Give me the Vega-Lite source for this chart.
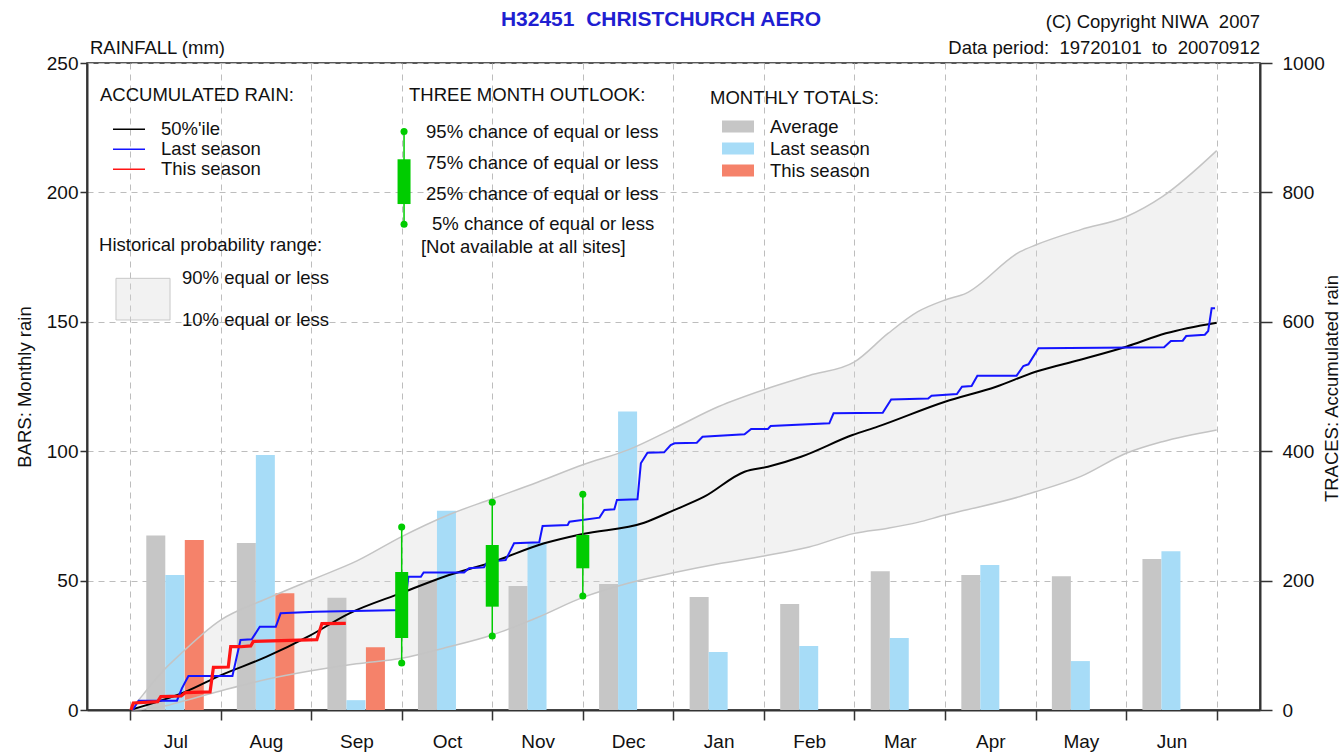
{
  "$schema": "https://vega.github.io/schema/vega-lite/v6.json",
  "width": 1173,
  "height": 647,
  "autosize": {"type": "none"},
  "padding": {"left": 87, "top": 63, "right": 84, "bottom": 42},
  "background": "white",
  "datasets": {
    "bars": [
      {"month": "Jul", "t": 0, "series": "Average", "mm": 67.4},
      {"month": "Jul", "t": 0, "series": "Last season", "mm": 52.2},
      {"month": "Jul", "t": 0, "series": "This season", "mm": 65.7},
      {"month": "Aug", "t": 1, "series": "Average", "mm": 64.5},
      {"month": "Aug", "t": 1, "series": "Last season", "mm": 98.5},
      {"month": "Aug", "t": 1, "series": "This season", "mm": 45.1},
      {"month": "Sep", "t": 2, "series": "Average", "mm": 43.4},
      {"month": "Sep", "t": 2, "series": "Last season", "mm": 3.8},
      {"month": "Sep", "t": 2, "series": "This season", "mm": 24.2},
      {"month": "Oct", "t": 3, "series": "Average", "mm": 50.2},
      {"month": "Oct", "t": 3, "series": "Last season", "mm": 77.0},
      {"month": "Nov", "t": 4, "series": "Average", "mm": 47.9},
      {"month": "Nov", "t": 4, "series": "Last season", "mm": 64.8},
      {"month": "Dec", "t": 5, "series": "Average", "mm": 48.7},
      {"month": "Dec", "t": 5, "series": "Last season", "mm": 115.3},
      {"month": "Jan", "t": 6, "series": "Average", "mm": 43.7},
      {"month": "Jan", "t": 6, "series": "Last season", "mm": 22.4},
      {"month": "Feb", "t": 7, "series": "Average", "mm": 41.0},
      {"month": "Feb", "t": 7, "series": "Last season", "mm": 24.7},
      {"month": "Mar", "t": 8, "series": "Average", "mm": 53.6},
      {"month": "Mar", "t": 8, "series": "Last season", "mm": 27.8},
      {"month": "Apr", "t": 9, "series": "Average", "mm": 52.2},
      {"month": "Apr", "t": 9, "series": "Last season", "mm": 56.0},
      {"month": "May", "t": 10, "series": "Average", "mm": 51.7},
      {"month": "May", "t": 10, "series": "Last season", "mm": 18.9},
      {"month": "Jun", "t": 11, "series": "Average", "mm": 58.3},
      {"month": "Jun", "t": 11, "series": "Last season", "mm": 61.3}
    ],
    "traces": [
      {"series": "50%'ile", "t": -0.5, "acc": 0},
      {"series": "50%'ile", "t": 0.109, "acc": 28},
      {"series": "50%'ile", "t": 0.507, "acc": 54},
      {"series": "50%'ile", "t": 1.003, "acc": 82},
      {"series": "50%'ile", "t": 1.486, "acc": 115},
      {"series": "50%'ile", "t": 1.917, "acc": 149},
      {"series": "50%'ile", "t": 2.5, "acc": 181},
      {"series": "50%'ile", "t": 2.969, "acc": 206},
      {"series": "50%'ile", "t": 3.508, "acc": 229},
      {"series": "50%'ile", "t": 4.074, "acc": 257.6},
      {"series": "50%'ile", "t": 4.497, "acc": 272},
      {"series": "50%'ile", "t": 5.178, "acc": 289.5},
      {"series": "50%'ile", "t": 5.508, "acc": 309},
      {"series": "50%'ile", "t": 5.841, "acc": 329.7},
      {"series": "50%'ile", "t": 6.286, "acc": 368.3},
      {"series": "50%'ile", "t": 6.544, "acc": 376},
      {"series": "50%'ile", "t": 6.91, "acc": 391.5},
      {"series": "50%'ile", "t": 7.478, "acc": 425},
      {"series": "50%'ile", "t": 7.756, "acc": 438},
      {"series": "50%'ile", "t": 8.5, "acc": 476.5},
      {"series": "50%'ile", "t": 9.064, "acc": 499.7},
      {"series": "50%'ile", "t": 9.5, "acc": 522.9},
      {"series": "50%'ile", "t": 9.984, "acc": 541},
      {"series": "50%'ile", "t": 10.5, "acc": 561.5},
      {"series": "50%'ile", "t": 10.938, "acc": 582.2},
      {"series": "50%'ile", "t": 11.5, "acc": 598.6},
      {"series": "Last season", "t": -0.471, "acc": 0},
      {"series": "Last season", "t": -0.405, "acc": 14.4},
      {"series": "Last season", "t": 0.018, "acc": 14.4},
      {"series": "Last season", "t": 0.073, "acc": 33.5},
      {"series": "Last season", "t": 0.145, "acc": 52.5},
      {"series": "Last season", "t": 0.631, "acc": 52.5},
      {"series": "Last season", "t": 0.72, "acc": 108.2},
      {"series": "Last season", "t": 0.844, "acc": 109.2},
      {"series": "Last season", "t": 0.933, "acc": 128.8},
      {"series": "Last season", "t": 1.11, "acc": 128.8},
      {"series": "Last season", "t": 1.163, "acc": 149.4},
      {"series": "Last season", "t": 1.545, "acc": 152},
      {"series": "Last season", "t": 2.53, "acc": 154.6},
      {"series": "Last season", "t": 2.574, "acc": 206},
      {"series": "Last season", "t": 2.712, "acc": 206},
      {"series": "Last season", "t": 2.742, "acc": 212.7},
      {"series": "Last season", "t": 3.189, "acc": 212.7},
      {"series": "Last season", "t": 3.244, "acc": 219},
      {"series": "Last season", "t": 3.409, "acc": 220.6},
      {"series": "Last season", "t": 3.445, "acc": 229},
      {"series": "Last season", "t": 3.648, "acc": 231.8},
      {"series": "Last season", "t": 3.741, "acc": 257.6},
      {"series": "Last season", "t": 4.019, "acc": 259.2},
      {"series": "Last season", "t": 4.056, "acc": 284.4},
      {"series": "Last season", "t": 4.333, "acc": 286},
      {"series": "Last season", "t": 4.352, "acc": 291},
      {"series": "Last season", "t": 4.684, "acc": 297.3},
      {"series": "Last season", "t": 4.738, "acc": 309.1},
      {"series": "Last season", "t": 4.848, "acc": 310.2},
      {"series": "Last season", "t": 4.877, "acc": 324.6},
      {"series": "Last season", "t": 5.104, "acc": 325.6},
      {"series": "Last season", "t": 5.141, "acc": 381.3},
      {"series": "Last season", "t": 5.214, "acc": 397.7},
      {"series": "Last season", "t": 5.398, "acc": 398.3},
      {"series": "Last season", "t": 5.47, "acc": 409.6},
      {"series": "Last season", "t": 5.514, "acc": 412.2},
      {"series": "Last season", "t": 5.759, "acc": 413.2},
      {"series": "Last season", "t": 5.822, "acc": 422.4},
      {"series": "Last season", "t": 6.286, "acc": 426.1},
      {"series": "Last season", "t": 6.359, "acc": 434.3},
      {"series": "Last season", "t": 6.544, "acc": 434.3},
      {"series": "Last season", "t": 6.574, "acc": 439},
      {"series": "Last season", "t": 7.222, "acc": 443.1},
      {"series": "Last season", "t": 7.269, "acc": 458.6},
      {"series": "Last season", "t": 7.812, "acc": 459.5},
      {"series": "Last season", "t": 7.905, "acc": 480},
      {"series": "Last season", "t": 8.314, "acc": 481.6},
      {"series": "Last season", "t": 8.351, "acc": 485.8},
      {"series": "Last season", "t": 8.631, "acc": 488.4},
      {"series": "Last season", "t": 8.687, "acc": 499.7},
      {"series": "Last season", "t": 8.793, "acc": 500.8},
      {"series": "Last season", "t": 8.857, "acc": 516.7},
      {"series": "Last season", "t": 9.29, "acc": 516.7},
      {"series": "Last season", "t": 9.365, "acc": 531.7},
      {"series": "Last season", "t": 9.421, "acc": 534.3},
      {"series": "Last season", "t": 9.532, "acc": 559},
      {"series": "Last season", "t": 10.919, "acc": 560.6},
      {"series": "Last season", "t": 10.994, "acc": 570.3},
      {"series": "Last season", "t": 11.125, "acc": 570.8},
      {"series": "Last season", "t": 11.163, "acc": 578},
      {"series": "Last season", "t": 11.369, "acc": 580},
      {"series": "Last season", "t": 11.406, "acc": 585.8},
      {"series": "Last season", "t": 11.444, "acc": 620.9},
      {"series": "Last season", "t": 11.481, "acc": 620.9},
      {"series": "This season", "t": -0.489, "acc": 0},
      {"series": "This season", "t": -0.464, "acc": 10.8},
      {"series": "This season", "t": -0.196, "acc": 12.9},
      {"series": "This season", "t": -0.16, "acc": 20.6},
      {"series": "This season", "t": 0.065, "acc": 21.6},
      {"series": "This season", "t": 0.112, "acc": 27},
      {"series": "This season", "t": 0.384, "acc": 28},
      {"series": "This season", "t": 0.421, "acc": 66},
      {"series": "This season", "t": 0.585, "acc": 66.5},
      {"series": "This season", "t": 0.612, "acc": 97.8},
      {"series": "This season", "t": 0.72, "acc": 97.8},
      {"series": "This season", "t": 0.833, "acc": 99},
      {"series": "This season", "t": 0.862, "acc": 106},
      {"series": "This season", "t": 1.563, "acc": 108.7},
      {"series": "This season", "t": 1.619, "acc": 133.5},
      {"series": "This season", "t": 1.883, "acc": 134}
    ],
    "band": [
      {"t": -0.5, "p10": 0, "p90": 0},
      {"t": -0.36, "p10": 1, "p90": 23},
      {"t": -0.25, "p10": 3, "p90": 42},
      {"t": -0.09, "p10": 7, "p90": 67},
      {"t": 0, "p10": 10.5, "p90": 79},
      {"t": 0.5, "p10": 29.5, "p90": 139},
      {"t": 1.0, "p10": 47, "p90": 171.5},
      {"t": 1.5, "p10": 60.5, "p90": 201},
      {"t": 2.0, "p10": 71.5, "p90": 230},
      {"t": 2.5, "p10": 80, "p90": 268},
      {"t": 3.0, "p10": 97, "p90": 300.7},
      {"t": 3.5, "p10": 116, "p90": 326.5},
      {"t": 4.0, "p10": 143, "p90": 352},
      {"t": 4.5, "p10": 174, "p90": 379},
      {"t": 5.0, "p10": 196, "p90": 402},
      {"t": 5.5, "p10": 212, "p90": 435},
      {"t": 6.0, "p10": 226, "p90": 469},
      {"t": 6.5, "p10": 238, "p90": 495},
      {"t": 7.0, "p10": 252, "p90": 517},
      {"t": 7.5, "p10": 273, "p90": 538},
      {"t": 7.87, "p10": 281, "p90": 582},
      {"t": 8.2, "p10": 290, "p90": 615.6},
      {"t": 8.5, "p10": 301.4, "p90": 633.7},
      {"t": 8.73, "p10": 309, "p90": 644},
      {"t": 9.33, "p10": 330, "p90": 708.4},
      {"t": 9.5, "p10": 337.4, "p90": 718.7},
      {"t": 10.0, "p10": 361, "p90": 742.5},
      {"t": 10.5, "p10": 396.8, "p90": 762.4},
      {"t": 10.9, "p10": 414.7, "p90": 793.4},
      {"t": 11.5, "p10": 432.8, "p90": 864.5}
    ],
    "outlook": [
      {"month": "Oct", "t": 2.5, "p5": 72.6, "p25": 111.3, "p75": 213.3, "p95": 282.8},
      {"month": "Nov", "t": 3.5, "p5": 114.4, "p25": 159.7, "p75": 255, "p95": 321},
      {"month": "Dec", "t": 4.5, "p5": 176.2, "p25": 219, "p75": 270.5, "p95": 333.4}
    ]
  },
  "layer": [
    {
      "data": {"name": "band"},
      "mark": {"type": "area", "interpolate": "monotone", "fill": "#d6d6d6", "fillOpacity": 0.32},
      "encoding": {
        "x": {
          "field": "t", "type": "quantitative",
          "scale": {"domain": [-0.975, 11.978], "nice": false, "zero": false, "padding": 0},
          "axis": {
            "title": null,
            "values": [-0.5, 0.5, 1.5, 2.5, 3.5, 4.5, 5.5, 6.5, 7.5, 8.5, 9.5, 10.5, 11.5],
            "labelExpr": "['Jul','Aug','Sep','Oct','Nov','Dec','Jan','Feb','Mar','Apr','May','Jun',''][round(datum.value + 0.5)]",
            "labelOffset": 45.3,
            "labelPadding": 21,
            "labelBaseline": "middle",
            "labelFlush": false,
            "labelOverlap": false,
            "labelBound": false,
            "tickSize": 10,
            "grid": true
          }
        },
        "y": {"field": "p90", "type": "quantitative", "scale": {"domain": [0, 1000], "nice": false}, "axis": null},
        "y2": {"field": "p10"}
      }
    },
    {
      "layer": [
        {
          "data": {"name": "bars"},
          "transform": [{"filter": {"field": "series", "equal": "Average"}}],
          "mark": {"type": "bar", "orient": "vertical", "width": 19, "xOffset": -19.5},
          "encoding": {
            "x": {"field": "t", "type": "quantitative"},
            "y": {
              "field": "mm", "type": "quantitative",
              "scale": {"domain": [0, 250], "nice": false},
              "axis": {
                "orient": "left",
                "values": [0, 50, 100, 150, 200, 250],
                "title": "BARS: Monthly rain",
                "grid": true,
                "tickSize": 7,
                "labelPadding": 2,
                "titleX": -62.5,
                "titleY": 323.5,
                "titleAngle": -90,
                "titleAlign": "center",
                "titleBaseline": "middle"
              }
            },
            "fill": {
              "field": "series", "type": "nominal",
              "scale": {"domain": ["Average", "Last season", "This season"], "range": ["#c6c6c6", "#a7dcf7", "#f5826a"]},
              "legend": {
                "title": "MONTHLY TOTALS:",
                "orient": "none",
                "legendX": 623,
                "legendY": 26,
                "symbolType": "M-1,-0.375H1V0.375H-1Z",
                "symbolSize": 1024,
                "symbolStrokeWidth": 0,
                "symbolOffset": 12,
                "labelOffset": 16,
                "clipHeight": 22,
                "rowPadding": 0,
                "titlePadding": 8
              }
            }
          }
        },
        {
          "data": {"name": "bars"},
          "transform": [{"filter": {"field": "series", "equal": "Last season"}}],
          "mark": {"type": "bar", "orient": "vertical", "width": 19, "xOffset": -0.5},
          "encoding": {
            "x": {"field": "t", "type": "quantitative"},
            "y": {"field": "mm", "type": "quantitative"},
            "fill": {"field": "series", "type": "nominal"}
          }
        },
        {
          "data": {"name": "bars"},
          "transform": [{"filter": {"field": "series", "equal": "This season"}}],
          "mark": {"type": "bar", "orient": "vertical", "width": 19, "xOffset": 19},
          "encoding": {
            "x": {"field": "t", "type": "quantitative"},
            "y": {"field": "mm", "type": "quantitative"},
            "fill": {"field": "series", "type": "nominal"}
          }
        },
        {
          "data": {"values": [{}]},
          "mark": {"type": "text", "text": "H32451\u00a0\u00a0CHRISTCHURCH AERO", "align": "center", "baseline": "middle", "fontSize": 21, "fontWeight": "bold", "color": "#1f1fd1"},
          "encoding": {"x": {"datum": 5.363, "type": "quantitative"}, "y": {"datum": 266.6, "type": "quantitative"}}
        },
        {
          "data": {"values": [{}]},
          "mark": {"type": "text", "text": "(C) Copyright NIWA\u00a0\u00a02007", "align": "right", "baseline": "middle"},
          "encoding": {"x": {"datum": 11.978, "type": "quantitative"}, "y": {"datum": 265.8, "type": "quantitative"}}
        },
        {
          "data": {"values": [{}]},
          "mark": {"type": "text", "text": "Data period:\u00a0\u00a019720101\u00a0\u00a0to\u00a0\u00a020070912", "align": "right", "baseline": "middle"},
          "encoding": {"x": {"datum": 11.978, "type": "quantitative"}, "y": {"datum": 255.8, "type": "quantitative"}}
        },
        {
          "data": {"values": [{}]},
          "mark": {"type": "text", "text": "RAINFALL (mm)", "align": "left", "baseline": "middle"},
          "encoding": {"x": {"datum": -0.942, "type": "quantitative"}, "y": {"datum": 255.8, "type": "quantitative"}}
        },
        {
          "data": {"values": [{}]},
          "mark": {"type": "text", "text": "THREE MONTH OUTLOOK:", "align": "left", "baseline": "middle"},
          "encoding": {"x": {"datum": 2.581, "type": "quantitative"}, "y": {"datum": 237.6, "type": "quantitative"}}
        },
        {
          "data": {"values": [{}]},
          "mark": {"type": "text", "text": "95% chance of equal or less", "align": "left", "baseline": "middle"},
          "encoding": {"x": {"datum": 2.769, "type": "quantitative"}, "y": {"datum": 223.2, "type": "quantitative"}}
        },
        {
          "data": {"values": [{}]},
          "mark": {"type": "text", "text": "75% chance of equal or less", "align": "left", "baseline": "middle"},
          "encoding": {"x": {"datum": 2.769, "type": "quantitative"}, "y": {"datum": 211.2, "type": "quantitative"}}
        },
        {
          "data": {"values": [{}]},
          "mark": {"type": "text", "text": "25% chance of equal or less", "align": "left", "baseline": "middle"},
          "encoding": {"x": {"datum": 2.769, "type": "quantitative"}, "y": {"datum": 199.4, "type": "quantitative"}}
        },
        {
          "data": {"values": [{}]},
          "mark": {"type": "text", "text": "5% chance of equal or less", "align": "left", "baseline": "middle"},
          "encoding": {"x": {"datum": 2.835, "type": "quantitative"}, "y": {"datum": 187.8, "type": "quantitative"}}
        },
        {
          "data": {"values": [{}]},
          "mark": {"type": "text", "text": "[Not available at all sites]", "align": "left", "baseline": "middle"},
          "encoding": {"x": {"datum": 2.713, "type": "quantitative"}, "y": {"datum": 179.0, "type": "quantitative"}}
        },
        {
          "data": {"values": [{}]},
          "mark": {"type": "rule", "color": "#00cc00", "strokeWidth": 1.5},
          "encoding": {"x": {"datum": 2.526, "type": "quantitative"}, "y": {"datum": 187.7, "type": "quantitative"}, "y2": {"datum": 223.5}}
        },
        {
          "data": {"values": [{}]},
          "mark": {"type": "bar", "orient": "vertical", "width": 13, "color": "#00cc00"},
          "encoding": {"x": {"datum": 2.526, "type": "quantitative"}, "y": {"datum": 195.5, "type": "quantitative"}, "y2": {"datum": 212.8}}
        },
        {
          "data": {"values": [{}]},
          "mark": {"type": "point", "filled": true, "size": 50, "opacity": 1, "color": "#00cc00"},
          "encoding": {"x": {"datum": 2.526, "type": "quantitative"}, "y": {"datum": 223.5, "type": "quantitative"}}
        },
        {
          "data": {"values": [{}]},
          "mark": {"type": "point", "filled": true, "size": 50, "opacity": 1, "color": "#00cc00"},
          "encoding": {"x": {"datum": 2.526, "type": "quantitative"}, "y": {"datum": 187.7, "type": "quantitative"}}
        },
        {
          "data": {"values": [{}]},
          "mark": {"type": "text", "text": "Historical probability range:", "align": "left", "baseline": "middle"},
          "encoding": {"x": {"datum": -0.842, "type": "quantitative"}, "y": {"datum": 179.7, "type": "quantitative"}}
        },
        {
          "data": {"values": [{}]},
          "mark": {"type": "rect", "fill": "#d6d6d6", "fillOpacity": 0.32, "stroke": "#c8c8c8", "strokeWidth": 1},
          "encoding": {"x": {"datum": -0.655, "type": "quantitative"}, "x2": {"datum": -0.058}, "y": {"datum": 166.8, "type": "quantitative"}, "y2": {"datum": 150.7}}
        },
        {
          "data": {"values": [{}]},
          "mark": {"type": "text", "text": "90% equal or less", "align": "left", "baseline": "middle"},
          "encoding": {"x": {"datum": 0.074, "type": "quantitative"}, "y": {"datum": 166.8, "type": "quantitative"}}
        },
        {
          "data": {"values": [{}]},
          "mark": {"type": "text", "text": "10% equal or less", "align": "left", "baseline": "middle"},
          "encoding": {"x": {"datum": 0.074, "type": "quantitative"}, "y": {"datum": 150.7, "type": "quantitative"}}
        }
      ]
    },
    {
      "layer": [
        {
          "data": {"name": "band"},
          "mark": {"type": "line", "interpolate": "monotone", "stroke": "#c4c4c4", "strokeWidth": 1.5},
          "encoding": {
            "x": {"field": "t", "type": "quantitative"},
            "y": {
              "field": "p90", "type": "quantitative",
              "scale": {"domain": [0, 1000], "nice": false},
              "axis": {
                "orient": "right",
                "values": [0, 200, 400, 600, 800, 1000],
                "format": "d",
                "title": "TRACES: Accumulated rain",
                "grid": false,
                "tickSize": 12,
                "labelPadding": 10,
                "titleX": 71,
                "titleY": 325,
                "titleAngle": -90,
                "titleAlign": "center",
                "titleBaseline": "middle"
              }
            }
          }
        },
        {
          "data": {"name": "band"},
          "mark": {"type": "line", "interpolate": "monotone", "stroke": "#c4c4c4", "strokeWidth": 1.5},
          "encoding": {
            "x": {"field": "t", "type": "quantitative"},
            "y": {"field": "p10", "type": "quantitative"}
          }
        },
        {
          "data": {"name": "traces"},
          "transform": [{"filter": {"field": "series", "equal": "50%'ile"}}],
          "mark": {"type": "line", "interpolate": "monotone", "strokeWidth": 2},
          "encoding": {
            "x": {"field": "t", "type": "quantitative"},
            "y": {"field": "acc", "type": "quantitative"},
            "stroke": {
              "field": "series", "type": "nominal",
              "scale": {"domain": ["50%'ile", "Last season", "This season"], "range": ["#000000", "#1414ff", "#ff1414"]},
              "legend": {
                "title": "ACCUMULATED RAIN:",
                "orient": "none",
                "legendX": 13,
                "legendY": 23,
                "symbolType": "stroke",
                "symbolSize": 1024,
                "symbolStrokeWidth": 1.6,
                "symbolOffset": 12,
                "labelOffset": 15,
                "clipHeight": 19.5,
                "rowPadding": 0,
                "titlePadding": 15
              }
            }
          }
        },
        {
          "data": {"name": "traces"},
          "transform": [{"filter": {"field": "series", "equal": "Last season"}}],
          "mark": {"type": "line", "strokeWidth": 2},
          "encoding": {
            "x": {"field": "t", "type": "quantitative"},
            "y": {"field": "acc", "type": "quantitative"},
            "stroke": {"field": "series", "type": "nominal"}
          }
        },
        {
          "data": {"name": "traces"},
          "transform": [{"filter": {"field": "series", "equal": "This season"}}],
          "mark": {"type": "line", "strokeWidth": 3.2},
          "encoding": {
            "x": {"field": "t", "type": "quantitative"},
            "y": {"field": "acc", "type": "quantitative"},
            "stroke": {"field": "series", "type": "nominal"}
          }
        },
        {
          "data": {"name": "outlook"},
          "mark": {"type": "rule", "color": "#00cc00", "strokeWidth": 1.5},
          "encoding": {
            "x": {"field": "t", "type": "quantitative"},
            "y": {"field": "p5", "type": "quantitative"},
            "y2": {"field": "p95"}
          }
        },
        {
          "data": {"name": "outlook"},
          "mark": {"type": "bar", "orient": "vertical", "width": 13, "color": "#00cc00"},
          "encoding": {
            "x": {"field": "t", "type": "quantitative"},
            "y": {"field": "p25", "type": "quantitative"},
            "y2": {"field": "p75"}
          }
        },
        {
          "data": {"name": "outlook"},
          "mark": {"type": "point", "filled": true, "size": 50, "opacity": 1, "color": "#00cc00"},
          "encoding": {
            "x": {"field": "t", "type": "quantitative"},
            "y": {"field": "p95", "type": "quantitative"}
          }
        },
        {
          "data": {"name": "outlook"},
          "mark": {"type": "point", "filled": true, "size": 50, "opacity": 1, "color": "#00cc00"},
          "encoding": {
            "x": {"field": "t", "type": "quantitative"},
            "y": {"field": "p5", "type": "quantitative"}
          }
        }
      ]
    }
  ],
  "resolve": {"scale": {"y": "independent"}},
  "config": {
    "font": "Liberation Sans",
    "view": {"stroke": "#222222", "strokeWidth": 1.5},
    "text": {"font": "Liberation Sans", "fontSize": 18.5, "color": "#111111"},
    "axis": {
      "labelFont": "Liberation Sans",
      "labelFontSize": 19,
      "labelColor": "#111111",
      "labelFlush": false,
      "titleFont": "Liberation Sans",
      "titleFontSize": 18.5,
      "titleFontWeight": "normal",
      "titleColor": "#111111",
      "domainColor": "#333333",
      "domainWidth": 2,
      "tickColor": "#333333",
      "tickWidth": 1.5,
      "gridColor": "#bdbdbd",
      "gridDash": [6, 5],
      "gridWidth": 1
    },
    "legend": {
      "titleFont": "Liberation Sans",
      "titleFontSize": 18.5,
      "titleFontWeight": "normal",
      "titleColor": "#111111",
      "labelFont": "Liberation Sans",
      "labelFontSize": 18.5,
      "labelColor": "#111111",
      "padding": 0,
      "titleLimit": 400,
      "labelLimit": 300
    }
  }
}
